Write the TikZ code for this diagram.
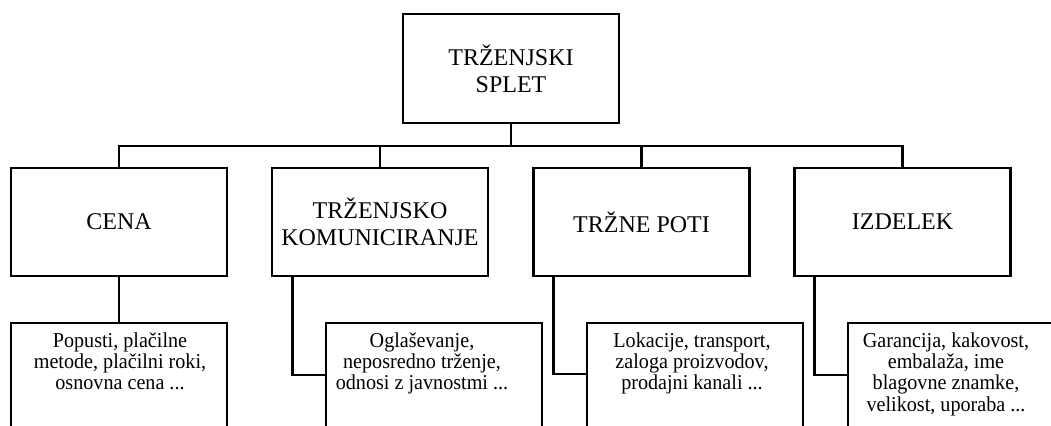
\documentclass[tikz,border=0pt]{standalone}
\usepackage{fontspec}
\setmainfont{Liberation Serif}
\newfontfamily\detailfont[FakeStretch=0.95]{Liberation Serif}
\begin{document}
\begin{tikzpicture}[x=0.5pt,y=-0.5pt,
  conn/.style={line width=1.25pt},
  headbox/.style={draw, line width=1.25pt, minimum width=108pt, minimum height=54pt,
    inner sep=0pt, align=center, font=\fontsize{12}{13.5}\selectfont},
  detailbox/.style={draw, line width=1.25pt, minimum width=108pt, minimum height=80pt,
    inner sep=0pt, anchor=north},
  dtext/.style={inner sep=0pt, align=center, anchor=north,
    font=\detailfont\fontsize{10.6}{10.7}\selectfont}]
\useasboundingbox (0,0) rectangle (1051,426);
\clip (0,0) rectangle (1051,426);
\fill[white] (0,0) rectangle (1051,426);

\node[headbox, minimum height=54.5pt] (top) at (511,68.5) {TRŽENJSKI\\SPLET};
\node[headbox] (cena) at (119,222) {CENA};
\node[headbox] (tk) at (380,222) {TRŽENJSKO\\KOMUNICIRANJE};
\node[headbox] (tp) at (641.5,222) {TRŽNE POTI};
\node[headbox] (iz) at (902.5,222) {IZDELEK};

\coordinate (bus) at (511,146);
\draw[conn] (top.south) -- (bus);
\draw[conn] (cena.north) |- (bus) -| (iz.north);
\draw[conn] (tk.north) -- (tk.north |- bus);
\draw[conn] (tp.north) -- (tp.north |- bus);

\node[detailbox] (d1) at (119,322) {};
\node[detailbox] (d2) at (434,322) {};
\node[detailbox] (d3) at (695,322) {};
\node[detailbox] (d4) at (956,322) {};

\draw[conn] (cena.south) -- (d1.north);
\draw[conn] ([xshift=10.75pt]tk.south west) |- ([yshift=-26.5pt]d2.north west);
\draw[conn] ([xshift=10.5pt]tp.south west) |- ([yshift=-26pt]d3.north west);
\draw[conn] ([xshift=10.5pt]iz.south west) |- ([yshift=-26.5pt]d4.north west);

\node[dtext] (t1) at (120,332) {Popusti, plačilne\\metode, plačilni roki,\\osnovna cena ...};
\node[dtext] (t2) at (422,332) {Oglaševanje,\\neposredno trženje,\\odnosi z javnostmi ...};
\node[dtext] (t3) at (692,332) {Lokacije, transport,\\zaloga proizvodov,\\prodajni kanali ...};
\node[dtext] (t4) at (946,332) {Garancija, kakovost,\\embalaža, ime\\blagovne znamke,\\velikost, uporaba ...};
\end{tikzpicture}
\end{document}
